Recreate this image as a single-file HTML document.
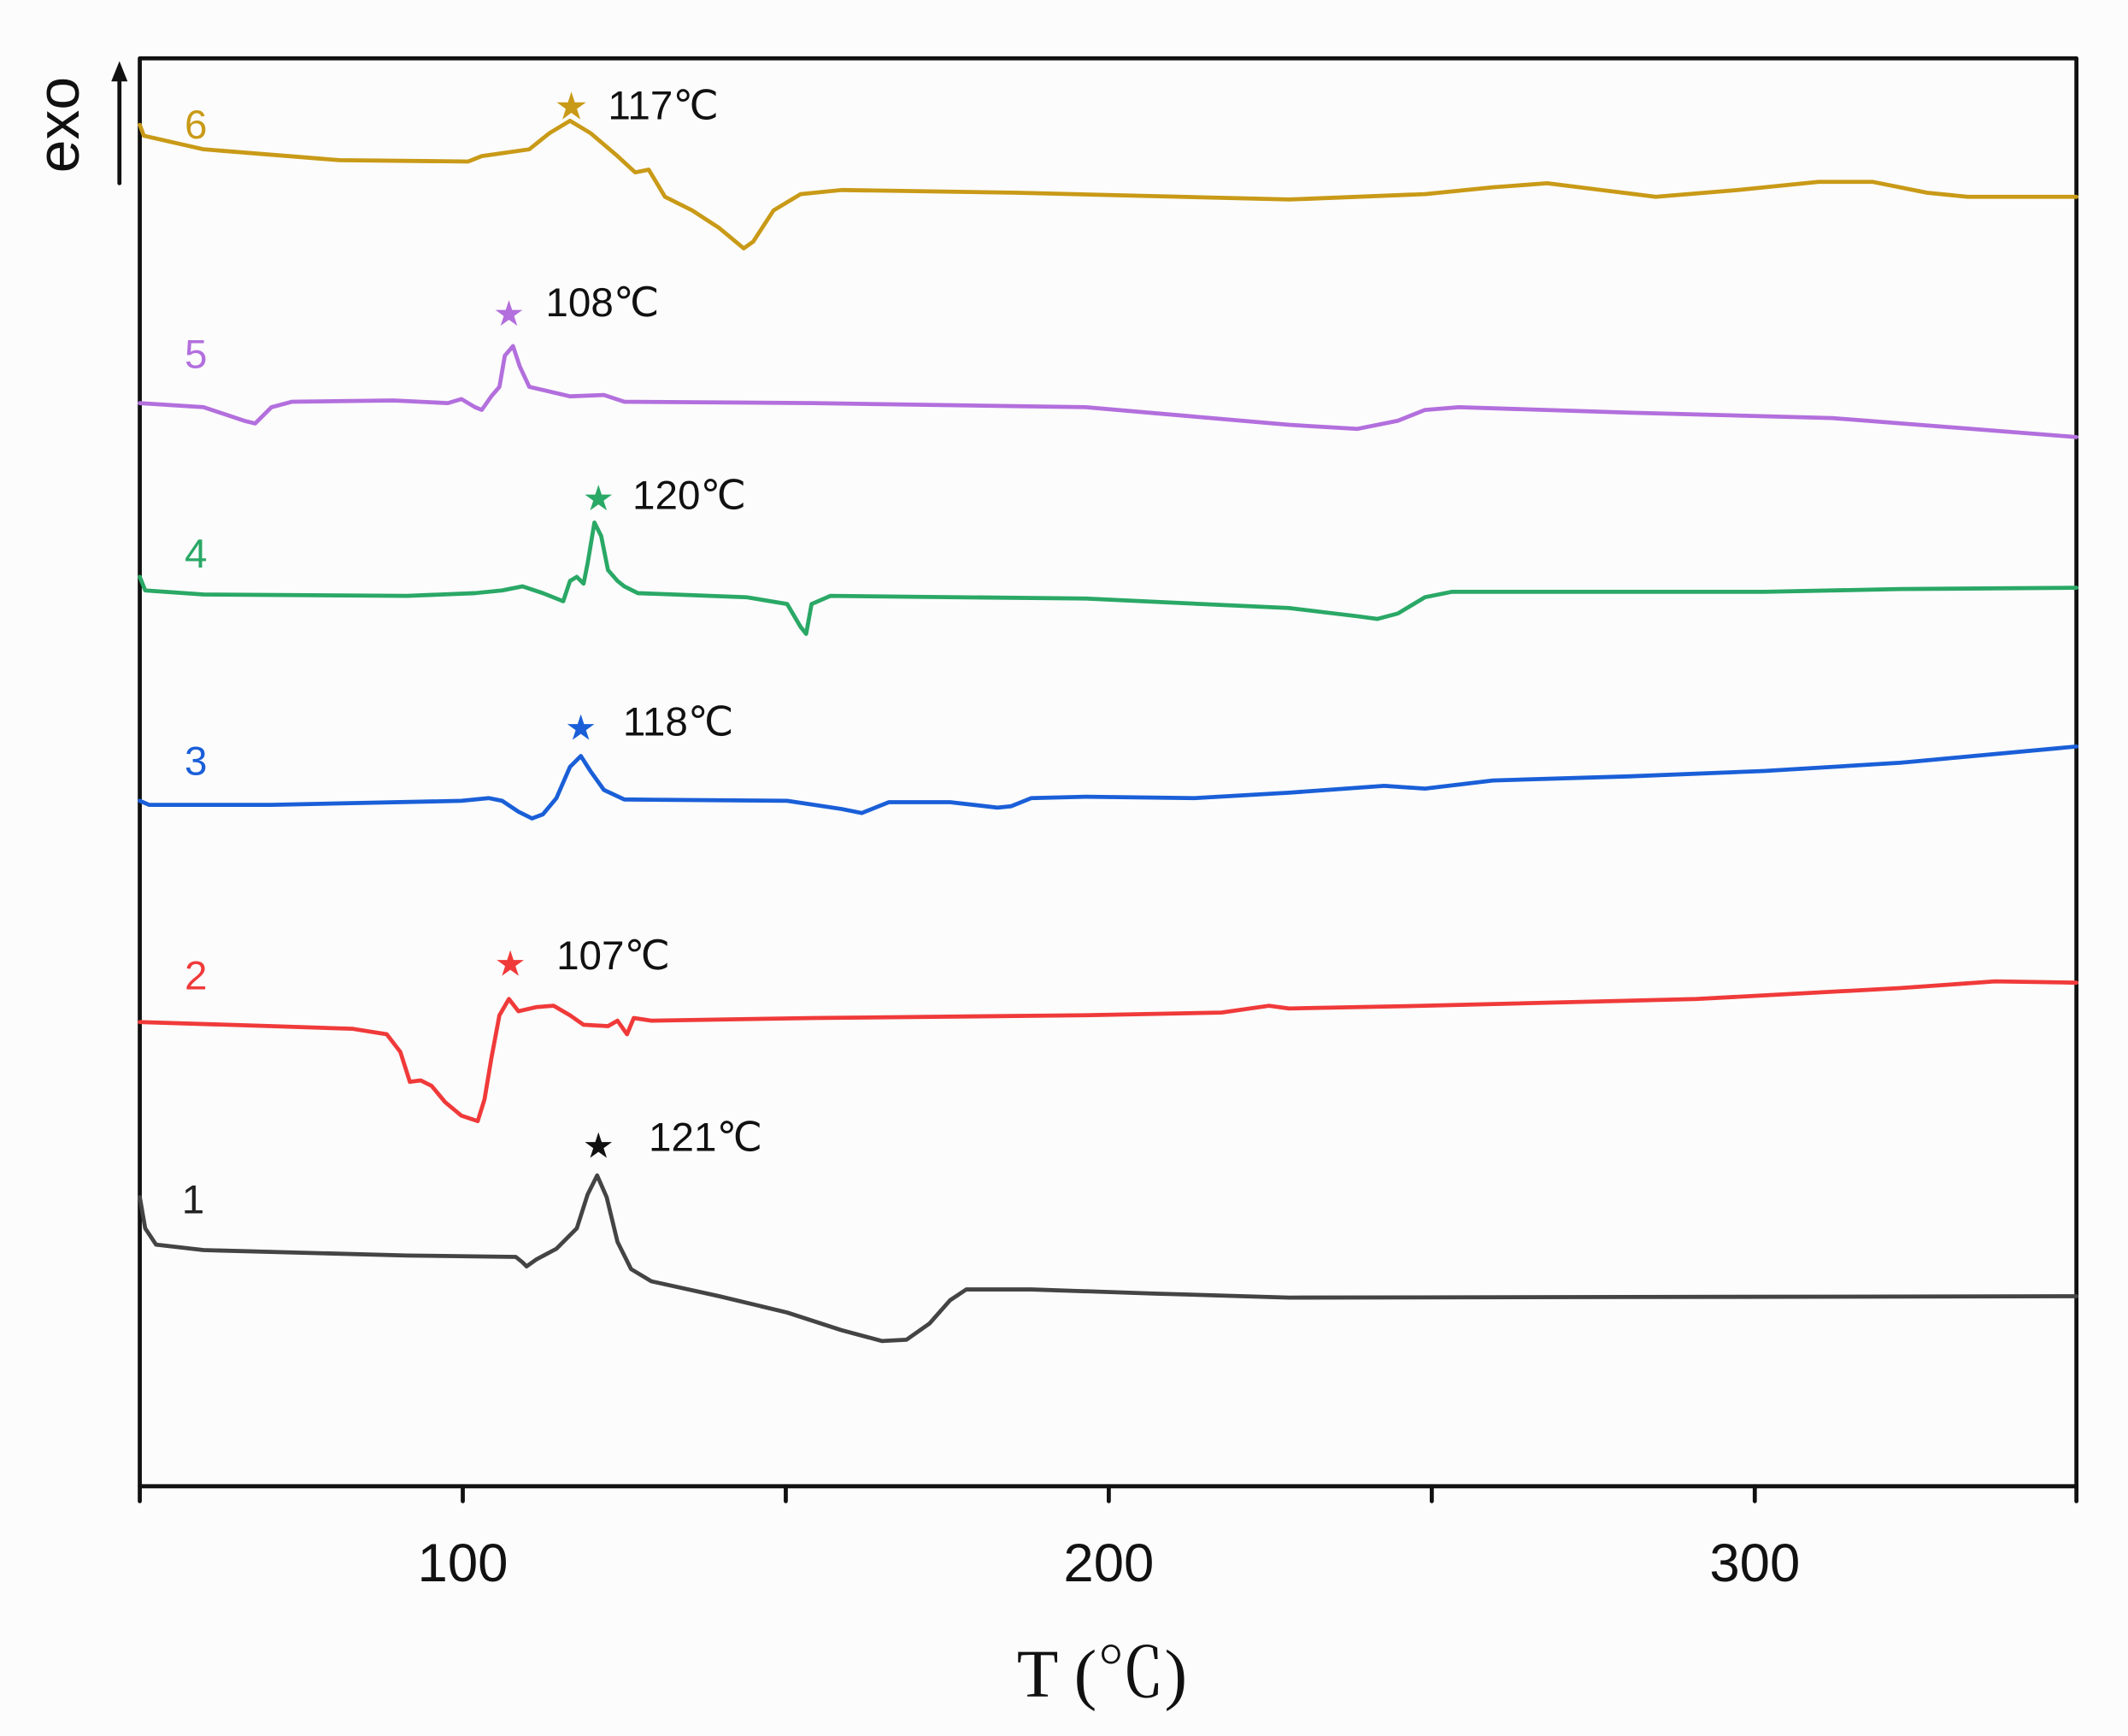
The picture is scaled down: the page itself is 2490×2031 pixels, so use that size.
<!DOCTYPE html>
<html><head><meta charset="utf-8"><style>
html,body{margin:0;padding:0;background:#fcfcfc;}
svg{display:block;}
</style></head><body>
<svg width="2490" height="2031" viewBox="0 0 1568 1279" preserveAspectRatio="none" xmlns="http://www.w3.org/2000/svg">
<rect x="0" y="0" width="1568" height="1279" fill="#fcfcfc"/>
<g fill="none" stroke-linejoin="round" stroke-linecap="round">
<rect x="103" y="43" width="1427" height="1052" stroke="#111" stroke-width="3"/>
<g stroke="#111" stroke-width="3">
<line x1="103" y1="1095" x2="103" y2="1106"/><line x1="341" y1="1095" x2="341" y2="1106"/>
<line x1="579" y1="1095" x2="579" y2="1106"/><line x1="817" y1="1095" x2="817" y2="1106"/>
<line x1="1055" y1="1095" x2="1055" y2="1106"/><line x1="1293" y1="1095" x2="1293" y2="1106"/>
<line x1="1530" y1="1095" x2="1530" y2="1106"/>
<line x1="88" y1="135" x2="88" y2="58"/>
</g>
<polygon points="88,45 82,60 94,60" fill="#111" stroke="none"/>
<polyline stroke="#c99a17" stroke-width="3" points="103,92 106,100 150,110 250,118 345,119 355,115 390,110 405,98 420,89 435,98 455,115 468,127 478,125 490,145 510,155 530,168 548,183 555,178 570,155 590,143 620,140 750,142 950,147 1050,143 1100,138 1140,135 1180,140 1220,145 1280,140 1340,134 1380,134 1420,142 1450,145 1530,145"/>
<polyline stroke="#b36fdd" stroke-width="3" points="103,297 150,300 180,310 188,312 200,300 215,296 290,295 330,297 340,294 350,300 355,302 362,292 368,285 372,262 378,255 383,270 390,285 420,292 445,291 460,296 600,297 800,300 950,313 1000,316 1030,310 1050,302 1075,300 1200,304 1350,308 1530,322"/>
<polyline stroke="#2aa866" stroke-width="3" points="103,425 107,435 150,438 300,439 350,437 370,435 385,432 400,437 415,443 420,428 425,425 430,430 433,415 438,385 443,395 448,420 455,428 460,432 470,437 550,440 580,445 590,462 594,467 598,445 612,439 800,441 950,448 1000,454 1015,456 1030,452 1050,440 1070,436 1300,436 1400,434 1530,433"/>
<polyline stroke="#1a5fd8" stroke-width="3" points="103,590 110,593 200,593 340,590 360,588 370,590 382,598 392,603 400,600 410,588 420,565 428,557 435,568 445,582 460,589 580,590 620,596 635,599 645,595 655,591 700,591 735,595 745,594 760,588 800,587 880,588 950,584 1020,579 1050,581 1100,575 1200,572 1300,568 1400,562 1530,550"/>
<polyline stroke="#f03a3a" stroke-width="3" points="103,753 200,756 260,758 285,762 295,775 302,797 310,796 318,800 328,812 340,822 352,826 357,810 362,780 368,748 375,736 382,745 395,742 408,741 420,748 430,755 448,756 455,752 462,762 467,750 480,752 600,750 800,748 900,746 935,741 950,743 1050,741 1250,736 1400,728 1470,723 1530,724"/>
<polyline stroke="#444" stroke-width="3" points="103,882 107,905 115,917 150,921 300,925 380,926 385,930 388,933 395,928 410,920 425,905 433,880 440,866 447,882 455,915 465,935 480,944 530,955 580,967 620,980 650,988 668,987 685,975 700,958 712,950 760,950 850,953 950,956 1530,955"/>
</g>
<g font-family="Liberation Sans, DejaVu Sans, sans-serif" font-size="30">
<text x="136" y="102" fill="#c99a17">6</text>
<text x="136" y="271" fill="#b36fdd">5</text>
<text x="136" y="418" fill="#2aa866">4</text>
<text x="136" y="571" fill="#1a5fd8">3</text>
<text x="136" y="729" fill="#f03a3a">2</text>
<text x="134" y="894" fill="#222">1</text>
<g fill="#c99a17"><text x="421" y="88" text-anchor="middle" font-size="28">★</text></g>
<text x="448" y="88" fill="#111">117℃</text>
<text x="375" y="240" text-anchor="middle" font-size="26" fill="#b36fdd">★</text>
<text x="402" y="233" fill="#111">108℃</text>
<text x="441" y="376" text-anchor="middle" font-size="26" fill="#2aa866">★</text>
<text x="466" y="375" fill="#111">120℃</text>
<text x="428" y="545" text-anchor="middle" font-size="26" fill="#1a5fd8">★</text>
<text x="459" y="542" fill="#111">118℃</text>
<text x="376" y="719" text-anchor="middle" font-size="26" fill="#f03a3a">★</text>
<text x="410" y="714" fill="#111">107℃</text>
<text x="441" y="853" text-anchor="middle" font-size="26" fill="#111">★</text>
<text x="478" y="848" fill="#111">121℃</text>
</g>
<g font-family="Liberation Sans, DejaVu Sans, sans-serif" font-size="40" fill="#111" text-anchor="middle">
<text x="341" y="1165">100</text><text x="817" y="1165">200</text><text x="1293" y="1165">300</text>
</g>
<text x="812" y="1250" text-anchor="middle" font-family="Liberation Serif, Noto Serif CJK SC, serif" font-size="50" fill="#111">T (℃)</text>
<text transform="translate(58,92) rotate(-90)" text-anchor="middle" font-family="Liberation Sans, DejaVu Sans, sans-serif" font-size="44" fill="#111">exo</text>
</svg>
</body></html>
